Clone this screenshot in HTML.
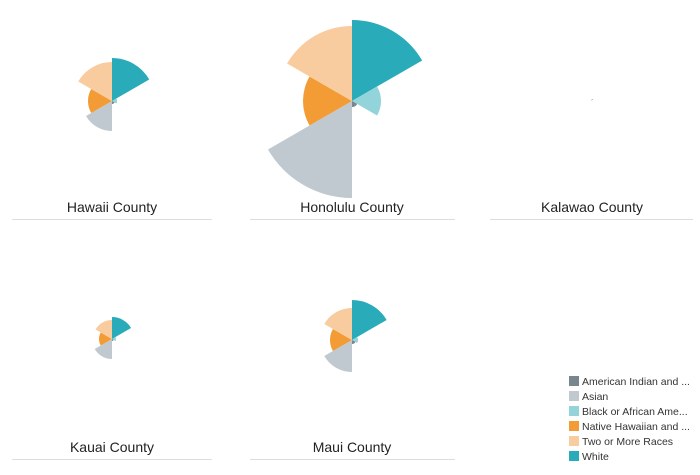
<!DOCTYPE html>
<html><head><meta charset="utf-8"><style>
body{margin:0;width:700px;height:470px;background:#fff;font-family:"Liberation Sans",sans-serif;overflow:hidden}
</style></head><body>
<svg id="s" width="700" height="470" xmlns="http://www.w3.org/2000/svg">
<g font-size="14" fill="#222" text-anchor="middle">
<text x="112" y="212">Hawaii County</text>
<text x="352" y="212">Honolulu County</text>
<text x="592" y="212">Kalawao County</text>
<text x="112" y="452">Kauai County</text>
<text x="352" y="452">Maui County</text>
</g>
<g stroke="#ddd" stroke-width="1">
<line x1="12" y1="219.5" x2="212" y2="219.5"/>
<line x1="250" y1="219.5" x2="455" y2="219.5"/>
<line x1="490" y1="219.5" x2="693" y2="219.5"/>
<line x1="12" y1="459.5" x2="212" y2="459.5"/>
<line x1="250" y1="459.5" x2="455" y2="459.5"/>
</g>
<g font-size="10.5" fill="#333">
<rect x="569" y="376" width="10" height="10" fill="#78868f"/><text x="582" y="385">American Indian and ...</text>
<rect x="569" y="391" width="10" height="10" fill="#c0c9cf"/><text x="582" y="400">Asian</text>
<rect x="569" y="406" width="10" height="10" fill="#93d3da"/><text x="582" y="415">Black or African Ame...</text>
<rect x="569" y="421" width="10" height="10" fill="#f39c35"/><text x="582" y="430">Native Hawaiian and ...</text>
<rect x="569" y="436" width="10" height="10" fill="#f8cc9e"/><text x="582" y="445">Two or More Races</text>
<rect x="569" y="451" width="10" height="10" fill="#29abba"/><text x="582" y="460">White</text>
</g>
<g id="g"></g>
</svg>
<script>
var cols=["#29abba","#93d3da","#78868f","#c0c9cf","#f39c35","#f8cc9e"];
var charts=[[112,101,[43,5,3,30,24,39]],[352,101,[81,29,6,97,49,75]],[592,100,[1,0,0,1,0,1]],[112,339,[22,4,2,20,13,19]],[352,340,[40,6,4,32,22,32]]];
var h="";
charts.forEach(function(c){
 for(var i=0;i<6;i++){var r=c[2][i];if(!r)continue;
  var a0=(i*60-90)*Math.PI/180,a1=((i+1)*60-90)*Math.PI/180;
  var x0=c[0]+r*Math.cos(a0),y0=c[1]+r*Math.sin(a0),x1=c[0]+r*Math.cos(a1),y1=c[1]+r*Math.sin(a1);
  h+='<path fill="'+cols[i]+'" d="M'+c[0]+' '+c[1]+'L'+x0+' '+y0+'A'+r+' '+r+' 0 0 1 '+x1+' '+y1+'Z"/>';
 }
});
document.getElementById("g").innerHTML=h;
</script>
</body></html>
